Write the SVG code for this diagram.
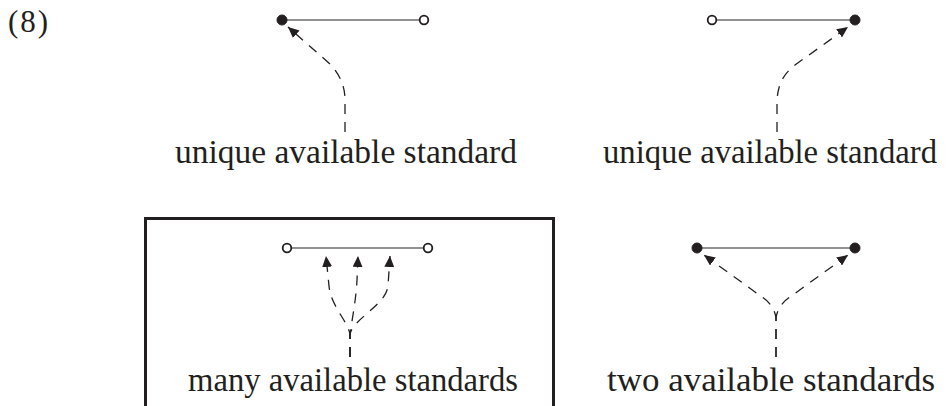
<svg xmlns="http://www.w3.org/2000/svg" width="949" height="406" viewBox="0 0 949 406">
<style>
.t{font-family:"Liberation Serif","Times New Roman",serif;font-size:34px;fill:#231f20}
.bar{stroke:#6d6d6d;stroke-width:1.6;fill:none}
.full{fill:#231f20;stroke:#231f20;stroke-width:1}
.open{fill:#fff;stroke:#231f20;stroke-width:1.8}
.dash{fill:none;stroke:#231f20;stroke-width:1.3;stroke-dasharray:10 8}
</style>
<defs>
<marker id="ah" markerWidth="12" markerHeight="10" refX="11" refY="5" orient="auto" markerUnits="userSpaceOnUse">
<path d="M0,0 L11,5 L0,10 Z" fill="#231f20"/>
</marker>
</defs>
<rect width="949" height="406" fill="#fff"/>
<text class="t" x="8" y="32" textLength="40" style="font-size:31px">(8)</text>

<g id="frame"><path d="M145.5,406 V218.5 H553.5 V406" fill="none" stroke="#231f20" stroke-width="3"/></g>

<g id="n1">
<line class="bar" x1="282" y1="20" x2="424" y2="20"/>
<circle class="full" cx="282" cy="20" r="5"/>
<circle class="open" cx="424" cy="20" r="4.3"/>
<text class="t" x="346" y="163" text-anchor="middle" textLength="342" lengthAdjust="spacingAndGlyphs">unique available standard</text>
</g>
<g id="n2">
<line class="bar" x1="712" y1="20" x2="855" y2="20"/>
<circle class="open" cx="712" cy="20" r="4.3"/>
<circle class="full" cx="855" cy="20" r="5"/>
<text class="t" x="770" y="163" text-anchor="middle" textLength="334" lengthAdjust="spacingAndGlyphs" style="font-size:33px">unique available standard</text>
</g>
<g id="n3">
<line class="bar" x1="287" y1="248" x2="428" y2="248"/>
<circle class="open" cx="287" cy="248" r="4.3"/>
<circle class="open" cx="428" cy="248" r="4.3"/>
<text class="t" x="353" y="391" text-anchor="middle" textLength="330" lengthAdjust="spacingAndGlyphs">many available standards</text>
</g>
<g id="n4">
<line class="bar" x1="697" y1="248" x2="855" y2="248"/>
<circle class="full" cx="697" cy="248" r="5"/>
<circle class="full" cx="855" cy="248" r="5"/>
<text class="t" x="771" y="391" text-anchor="middle" textLength="328" lengthAdjust="spacingAndGlyphs">two available standards</text>
</g>

<g id="connectors">
<path class="dash" marker-end="url(#ah)" d="M345,132 V100 C345,86 340,75 330,64 L288,27"/>
<path class="dash" marker-end="url(#ah)" d="M777,132 V100 C778,86 782,75 795,65 L848,27"/>
<path class="dash" marker-end="url(#ah)" d="M350,357 V334 C347,320 331,306 329,286 L326,256"/>
<path class="dash" marker-end="url(#ah)" d="M350,357 V334 C352,320 356,300 357,280 L358,256"/>
<path class="dash" marker-end="url(#ah)" d="M350,357 V334 C354,318 386,305 388,286 L390,256"/>
<path class="dash" marker-end="url(#ah)" d="M776,357 V318 C775,310 770,302 762,297 L704,255"/>
<path class="dash" marker-end="url(#ah)" d="M776,357 V318 C777,310 782,302 790,297 L848,255"/>
</g>
</svg>
